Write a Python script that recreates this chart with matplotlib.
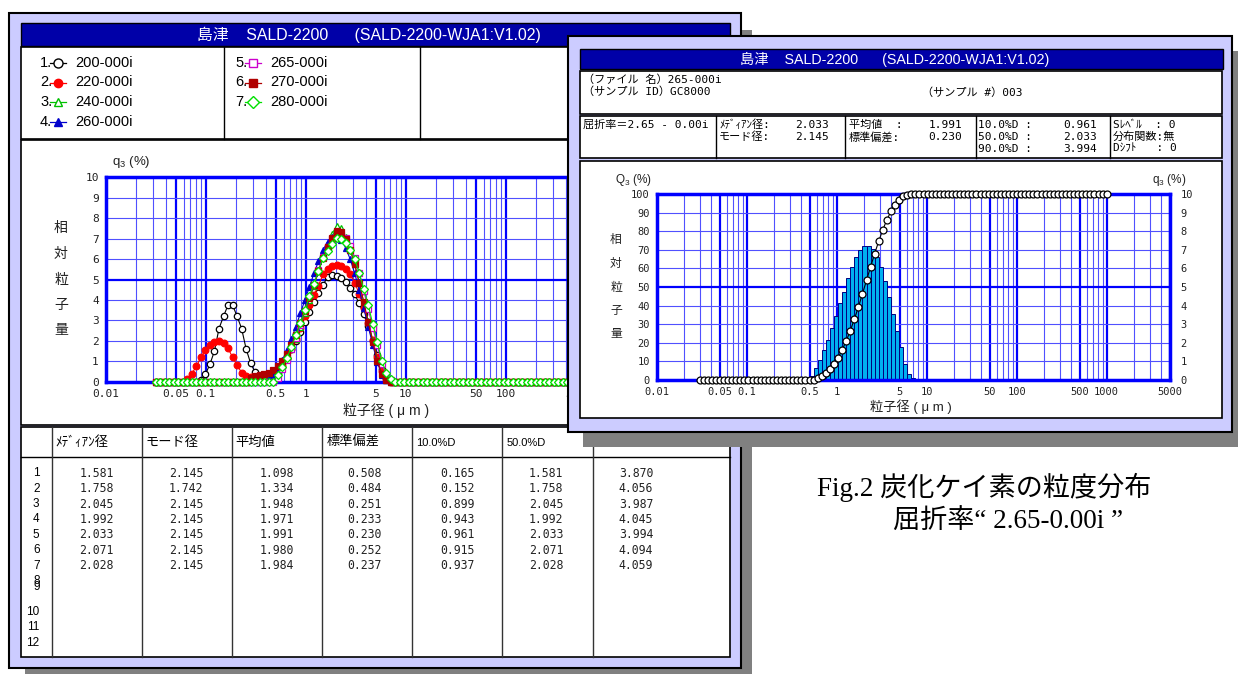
import numpy as np
import matplotlib
matplotlib.use('Agg')
import matplotlib.pyplot as plt
from matplotlib.patches import Rectangle

plt.rcParams['font.family'] = ['Liberation Sans', 'Noto Sans CJK JP', 'DejaVu Sans']
plt.rcParams['mathtext.default'] = 'regular'

#### Data ####

sample_names = ['200-000i', '220-000i', '240-000i', '260-000i',
                '265-000i', '270-000i', '280-000i']

# q3 (%) per size channel, listed from the first non-zero channel (index *_start)
q3_200_start = 10
q3_200 = [0.1, 0.36, 0.86, 1.5, 2.6, 3.2, 3.75, 3.75, 3.2, 2.6, 1.6, 0.9, 0.46,
          0.3, 0.25, 0.25, 0.3, 0.45, 0.7, 1.1, 1.6, 2.0, 2.45, 2.9, 3.4, 3.9,
          4.35, 4.75, 5.1, 5.22, 5.17, 5.06, 4.86, 4.6, 4.28, 3.83, 3.3, 2.72,
          2.0, 1.3, 0.6, 0.2, 0.05]
q3_220_start = 7
q3_220 = [0.15, 0.4, 0.75, 1.2, 1.55, 1.8, 1.95, 2.0, 1.88, 1.63, 1.2, 0.8, 0.45,
          0.3, 0.25, 0.25, 0.25, 0.28, 0.32, 0.4, 0.55, 0.8, 1.15, 1.6, 2.1,
          2.65, 3.2, 3.75, 4.25, 4.7, 5.25, 5.5, 5.65, 5.7, 5.65, 5.5, 5.25,
          4.85, 4.3, 3.6, 2.85, 2.05, 1.2, 0.5, 0.15]
q3_240_start = 22
q3_240 = [0.1, 0.15, 0.2, 0.25, 0.35, 0.5, 0.8, 1.15, 1.6, 2.1, 2.7, 3.35, 4.0,
          4.7, 5.4, 6.1, 6.75, 7.25, 7.6, 7.5, 7.1, 6.5, 5.75, 4.85, 3.9, 2.95,
          2.0, 1.05, 0.4, 0.1]
q3_260_start = 25
q3_260 = [0.15, 0.35, 0.65, 1.05, 1.55, 2.1, 2.7, 3.35, 4.0, 4.65, 5.3, 5.9,
          6.45, 6.85, 7.1, 7.15, 6.95, 6.55, 6.0, 5.3, 4.5, 3.6, 2.7, 1.8, 0.95,
          0.35, 0.1]
q3_265_start = 27
q3_265 = [0.2, 0.63, 1.08, 1.61, 2.15, 2.78, 3.44, 4.12, 4.75, 5.47, 6.09, 6.6,
          6.99, 7.2, 7.2, 7.03, 6.63, 6.06, 5.34, 4.44, 3.55, 2.65, 1.79, 0.86,
          0.32, 0.09]
q3_270_start = 21
q3_270 = [0.2, 0.3, 0.35, 0.4, 0.45, 0.55, 0.75, 1.0, 1.35, 1.8, 2.3, 2.85,
          3.45, 4.1, 4.75, 5.4, 6.05, 6.6, 7.05, 7.35, 7.3, 7.0, 6.45, 5.75,
          4.85, 3.9, 2.9, 1.95, 1.0, 0.4, 0.1]
q3_280_start = 27
q3_280 = [0.33, 0.73, 1.14, 1.71, 2.28, 2.86, 3.5, 4.19, 4.78, 5.42, 6.04, 6.39,
          6.74, 7.02, 6.97, 6.77, 6.44, 5.99, 5.33, 4.52, 3.75, 2.82, 1.96, 1.03,
          0.41, 0.12]

# statistics table
median_d = [1.581, 1.758, 2.045, 1.992, 2.033, 2.071, 2.028]
mode_d = [2.145, 1.742, 2.145, 2.145, 2.145, 2.145, 2.145]
mean_v = [1.098, 1.334, 1.948, 1.971, 1.991, 1.980, 1.984]
std_v = [0.508, 0.484, 0.251, 0.233, 0.230, 0.252, 0.237]
d10 = [0.165, 0.152, 0.899, 0.943, 0.961, 0.915, 0.937]
d50 = [1.581, 1.758, 2.045, 1.992, 2.033, 2.071, 2.028]
d90 = [3.870, 4.056, 3.987, 4.045, 3.994, 4.094, 4.059]
table_headers = ['ﾒﾃﾞｨｱﾝ径', 'モード径', '平均値', '標準偏差', '10.0%D', '50.0%D']

xtick_vals = [0.01, 0.05, 0.1, 0.5, 1, 5, 10, 50, 100, 500, 1000, 5000]
xtick_labels = ['0.01', '0.05', '0.1', '0.5', '1', '5', '10', '50', '100',
                '500', '1000', '5000']

# size channels of the analyser: 100 log-spaced classes, 0.03 - 1000 um
n_ch = 100
edges = 0.03 * (1000 / 0.03) ** (np.arange(n_ch + 1) / n_ch)
centers = np.sqrt(edges[:-1] * edges[1:])


def full(start, vals):
    a = np.zeros(n_ch)
    a[start:start + len(vals)] = vals
    return a


series = [full(q3_200_start, q3_200), full(q3_220_start, q3_220),
          full(q3_240_start, q3_240), full(q3_260_start, q3_260),
          full(q3_265_start, q3_265), full(q3_270_start, q3_270),
          full(q3_280_start, q3_280)]

styles = [dict(color='black', marker='o', mfc='white', mec='black', ms=4.6),
          dict(color='#FF0000', marker='o', mfc='#FF0000', mec='#FF0000', ms=4.8),
          dict(color='#00C000', marker='^', mfc='white', mec='#00C000', ms=5),
          dict(color='#0000CC', marker='^', mfc='#0000CC', mec='#0000CC', ms=5),
          dict(color='#CC00CC', marker='s', mfc='white', mec='#CC00CC', ms=4.2),
          dict(color='#B00000', marker='s', mfc='#B00000', mec='#B00000', ms=4.2),
          dict(color='#00E000', marker='D', mfc='white', mec='#00E000', ms=4.2)]

#### Figure ####

W, H = 1238, 675
LAV = '#CCCCFF'
BAR = '#0000A8'
SHADOW = '#808080'
GRIDC = '#0000FF'
MINORC = '#5050FF'
TXT = '#222222'
MONO = ['DejaVu Sans Mono', 'Noto Sans CJK JP']

fig = plt.figure(figsize=(W / 100, H / 100), dpi=100)


def box(x0, y0, x1, y1):
    return [x0 / W, 1 - y1 / H, (x1 - x0) / W, (y1 - y0) / H]


def pix_axes(z):
    a = fig.add_axes([0, 0, 1, 1], zorder=z)
    a.set_xlim(0, W)
    a.set_ylim(H, 0)
    a.axis('off')
    return a


def rect(a, x0, y0, x1, y1, fc, ec='black', lw=1.0):
    a.add_patch(Rectangle((x0, y0), x1 - x0, y1 - y0, facecolor=fc,
                          edgecolor=ec, linewidth=lw))


def log_grid(ax, ymax, ystep, ymajor):
    for dec in [0.01, 0.1, 1, 10, 100, 1000]:
        for m in range(1, 10):
            v = dec * m
            if v > 5000:
                break
            major = m in (1, 5)
            ax.axvline(v, color=GRIDC if major else MINORC,
                       lw=1.6 if major else 0.8, zorder=1)
    for yv in np.arange(0, ymax + ystep / 2, ystep):
        major = abs(yv - ymajor) < 1e-9
        ax.axhline(yv, color=GRIDC if major else MINORC,
                   lw=1.6 if major else 0.8, zorder=1)


def style_axes(ax, tsize, labels):
    ax.set_xscale('log')
    ax.set_xlim(0.01, 5000)
    ax.xaxis.set_minor_locator(plt.NullLocator())
    ax.set_xticks(xtick_vals)
    ax.set_xticklabels(labels, fontfamily='DejaVu Sans Mono',
                       fontsize=tsize, color=TXT)
    ax.tick_params(length=0, pad=5)
    for sp in ax.spines.values():
        sp.set_color(GRIDC)
        sp.set_linewidth(2.5)


# ---------------- left window ----------------
bgL = pix_axes(0)
rect(bgL, 25, 30, 752, 673.5, SHADOW, ec='none')
rect(bgL, 9, 12.5, 741, 668, LAV, lw=1.5)
rect(bgL, 21, 23, 730, 46, BAR)
bgL.text(197, 34.5, '島津    SALD-2200      (SALD-2200-WJA1:V1.02)',
         color='white', fontsize=11.4, va='center')
rect(bgL, 21, 47, 730, 138.5, 'white', lw=1.2)
for xv in [224, 420]:
    bgL.plot([xv, xv], [47, 138.5], color='black', lw=1)

leg_pos = [(40, 63), (40, 82.5), (40, 102), (40, 121.7),
           (235, 63), (235, 82.5), (235, 102)]
leg_ms = [6.5, 6, 6, 6, 5.5, 5.5, 6.5]
for i, ((x, y), st, name) in enumerate(zip(leg_pos, styles, sample_names)):
    bgL.text(x, y, f'{i + 1}.', fontsize=10.5, va='center', ha='left')
    bgL.plot([x + 10, x + 26], [y, y], color=st['color'], lw=0.9)
    mk = dict(st)
    mk['ms'] = leg_ms[i]
    bgL.plot([x + 18], [y], lw=0, **mk)
    bgL.text(x + 35, y, name, fontsize=10.5, va='center', ha='left')

rect(bgL, 21, 140, 730, 424.5, 'white', lw=1.2)
bgL.text(112, 162, 'q$_{3}$ (%)', fontsize=9.5, va='center', color=TXT)
for ch, yv in zip('相対粒子量', [228, 254, 280, 305, 330]):
    bgL.text(61, yv, ch, fontsize=10, ha='center', va='center', color=TXT)
bgL.text(386, 410, '粒子径 ( μ m )', fontsize=10, ha='center', va='center',
         color=TXT)

# table
rect(bgL, 21, 427, 730, 657, 'white', lw=1.2)
bgL.plot([21, 730], [457, 457], color='black', lw=1)
col_x = [51.7, 141.7, 231.7, 322.3, 412.3, 502.3, 592.7]
for xv in col_x:
    bgL.plot([xv, xv], [427, 657], color='#333333', lw=1)
for xv, head in zip(col_x, table_headers):
    fs = 8 if '%' in head else 9.5
    bgL.text(xv + 4, 442.5, head, fontsize=fs, va='center', ha='left')
row_y = [473.3, 488.7, 504.1, 519.5, 534.9, 550.3, 565.7, 580.5, 587.5,
         611.9, 627.3, 642.7]
for i, yv in enumerate(row_y):
    bgL.text(39.5, yv, str(i + 1), fontsize=8.5, ha='right', va='center')
val_x = [96.7, 186, 277, 364, 457, 546, 636]
for cx, col in zip(val_x, [median_d, mode_d, mean_v, std_v, d10, d50, d90]):
    for yv, v in zip(row_y, col):
        bgL.text(cx, yv, f'{v:.3f}', fontsize=8.3, ha='center', va='center',
                 fontfamily='DejaVu Sans Mono', color=TXT)

# left chart (its right part lies under the second window)
ax1 = fig.add_axes(box(105.7, 177.3, 675.6, 381.7), zorder=1)
ax1.patch.set_visible(False)
style_axes(ax1, 8, xtick_labels[:-2] + ['', ''])
ax1.set_ylim(0, 10)
ax1.set_yticks(range(11))
ax1.set_yticklabels([str(v) for v in range(11)], fontfamily='DejaVu Sans Mono',
                    fontsize=8, color=TXT)
log_grid(ax1, 10, 1, 5)
for vals, st in zip(series, styles):
    ax1.plot(centers, vals, lw=0.8, clip_on=False, zorder=3, mew=0.9, **st)

# ---------------- right window ----------------
bgR = pix_axes(2)
rect(bgR, 583, 51, 1250, 446.7, SHADOW, ec='none')
rect(bgR, 568, 36, 1232, 431.5, LAV, lw=1.5)
rect(bgR, 580, 49, 1223, 69, BAR)
bgR.text(740, 59, '島津    SALD-2200      (SALD-2200-WJA1:V1.02)',
         color='white', fontsize=10.3, va='center')
rect(bgR, 580, 70.5, 1222, 113.5, 'white', lw=1.2)
bgR.text(583, 79.5, '（ファイル 名）265-000i', fontsize=8, va='center',
         fontfamily=MONO)
bgR.text(583, 91.5, '（サンプル ID）GC8000', fontsize=8, va='center',
         fontfamily=MONO)
bgR.text(922, 93, '（サンプル #）003', fontsize=8, va='center', fontfamily=MONO)

rect(bgR, 580, 115.5, 1222, 158, 'white', lw=1.2)
for xv in [716, 845, 976, 1110]:
    bgR.plot([xv, xv], [115.5, 158], color='black', lw=1)
info_rows = [125, 137, 148.5]
bgR.text(583, info_rows[0], '屈折率＝2.65 - 0.00i', fontsize=8, va='center',
         fontfamily=MONO)
info_cols = [
    (719, 829, [('ﾒﾃﾞｨｱﾝ径:', '2.033'), ('モード径:', '2.145')]),
    (849, 962, [('平均値  :', '1.991'), ('標準偏差:', '0.230')]),
    (978, 1097, [('10.0%D :', '0.961'), ('50.0%D :', '2.033'),
                 ('90.0%D :', '3.994')]),
    (1113, None, [('Sﾚﾍﾞﾙ  : 0', ''), ('分布関数:無', ''), ('Dｼﾌﾄ   : 0', '')]),
]
for xl, xv, items in info_cols:
    for yv, (lab, val) in zip(info_rows, items):
        bgR.text(xl, yv, lab, fontsize=8, va='center', fontfamily=MONO)
        if val:
            bgR.text(xv, yv, val, fontsize=8, va='center', ha='right',
                     fontfamily=MONO)

rect(bgR, 580, 160.5, 1222, 418, 'white', lw=1.2)
bgR.text(615, 180, 'Q$_{3}$ (%)', fontsize=8.5, va='center', color=TXT)
bgR.text(1152, 180, 'q$_{3}$ (%)', fontsize=8.5, va='center', color=TXT)
for ch, yv in zip('相対粒子量', [240, 264, 288, 311, 334]):
    bgR.text(616, yv, ch, fontsize=8.5, ha='center', va='center', color=TXT)
bgR.text(911, 406.5, '粒子径 ( μ m )', fontsize=9.5, ha='center', va='center',
         color=TXT)

# caption
cap_font = ['Liberation Serif', 'Noto Sans CJK JP']
bgR.text(817, 487, 'Fig.2 炭化ケイ素の粒度分布', fontsize=19.5, va='center',
         fontfamily=cap_font)
bgR.text(893, 521, '屈折率“ 2.65-0.00i ”', fontsize=19.5, va='center',
         fontfamily=cap_font)

# right chart: bars (q3, right axis) below, cumulative Q3 circles on top
ax2 = fig.add_axes(box(656.7, 194, 1169.6, 380), zorder=4)
ax2.set_xscale('log')
ax2r = ax2.twinx()
ax2r.set_zorder(3)
ax2.patch.set_visible(False)
ax2r.patch.set_visible(False)
style_axes(ax2, 7.5, xtick_labels)
ax2.set_ylim(0, 100)
ax2.set_yticks(range(0, 101, 10))
ax2.set_yticklabels([str(v) for v in range(0, 101, 10)],
                    fontfamily='DejaVu Sans Mono', fontsize=7.5, color=TXT)
ax2r.set_ylim(0, 10)
ax2r.set_yticks(range(11))
ax2r.set_yticklabels([str(v) for v in range(11)], fontfamily='DejaVu Sans Mono',
                     fontsize=7.5, color=TXT)
ax2r.tick_params(length=0, pad=8)
for sp in ax2r.spines.values():
    sp.set_visible(False)
log_grid(ax2r, 10, 1, 5)

q3_bar = series[4]
nz = q3_bar > 0
ax2r.bar(edges[:-1][nz], q3_bar[nz], width=np.diff(edges)[nz], align='edge',
         color='#00B0F0', edgecolor='#000080', linewidth=0.7, zorder=2)

cum = np.concatenate([[0.0], np.cumsum(q3_bar)])
cum = cum / cum[-1] * 100
ax2.plot(edges, cum, color='black', marker='o', mfc='white', mec='black',
         ms=5, mew=0.9, lw=0.8, clip_on=False, zorder=5)

fig.savefig('out.png', dpi=100)
